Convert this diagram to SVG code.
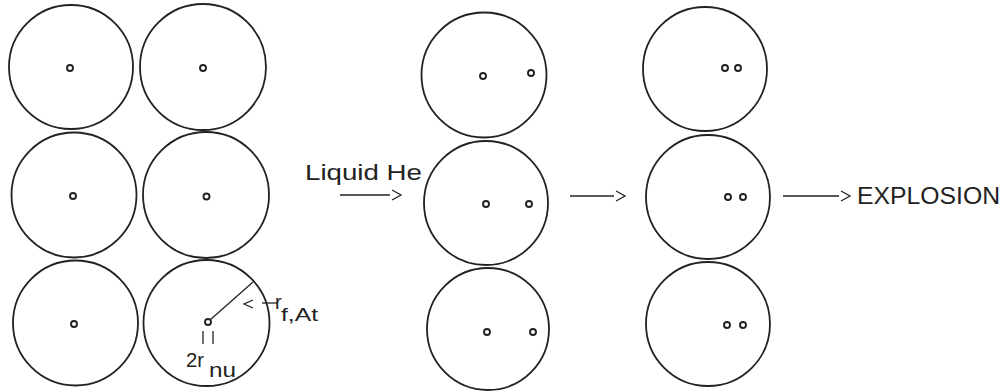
<svg xmlns="http://www.w3.org/2000/svg" width="1005" height="391" viewBox="0 0 1005 391">
<style>
.atom{fill:none;stroke:#222;stroke-width:1.8}
.nuc{fill:#fff;stroke:#222;stroke-width:1.9}
.ln{fill:none;stroke:#222;stroke-width:1.3}
.t{font-family:"Liberation Sans",Arial,sans-serif;fill:#222}
</style>
<rect width="1005" height="391" fill="#fff"/>
<g id="a11"><circle class="atom" cx="71" cy="67" r="62"/><circle class="nuc" cx="70" cy="68" r="3"/></g>
<g id="a12"><circle class="atom" cx="203" cy="67" r="63"/><circle class="nuc" cx="203" cy="68" r="3"/></g>
<g id="a21"><circle class="atom" cx="74" cy="195" r="62.5"/><circle class="nuc" cx="73" cy="196" r="3"/></g>
<g id="a22"><circle class="atom" cx="206" cy="195" r="63"/><circle class="nuc" cx="206.5" cy="196.5" r="3"/></g>
<g id="a31"><circle class="atom" cx="75.5" cy="323" r="62.5"/><circle class="nuc" cx="74" cy="324" r="3"/></g>
<g id="a32"><circle class="atom" cx="206.5" cy="323" r="63"/><circle class="nuc" cx="208" cy="322" r="3"/>
<line class="ln" x1="210" y1="320" x2="253" y2="282"/>
<line class="ln" x1="203" y1="331" x2="203" y2="344" stroke-width="1.6"/><line class="ln" x1="213" y1="331" x2="213" y2="344" stroke-width="1.6"/>
<text class="t" x="186" y="367" font-size="20" textLength="18" lengthAdjust="spacingAndGlyphs">2r</text><text class="t" x="209" y="377" font-size="20" textLength="27" lengthAdjust="spacingAndGlyphs">nu</text>
<text class="t" x="275" y="309" font-size="20">r</text><text class="t" x="281" y="321" font-size="18" textLength="37" lengthAdjust="spacingAndGlyphs">f,At</text>
</g>
<g id="b1"><circle class="atom" cx="484" cy="75" r="62.5"/><circle class="nuc" cx="483" cy="76" r="3"/><circle class="nuc" cx="531" cy="73" r="3"/></g>
<g id="b2"><circle class="atom" cx="486" cy="203" r="62"/><circle class="nuc" cx="486" cy="204" r="3"/><circle class="nuc" cx="529" cy="204" r="3"/></g>
<g id="b3"><circle class="atom" cx="488" cy="329" r="61"/><circle class="nuc" cx="487" cy="332" r="3"/><circle class="nuc" cx="533" cy="332" r="3"/></g>
<g id="c1"><circle class="atom" cx="705" cy="69" r="62"/><circle class="nuc" cx="725" cy="68" r="3"/><circle class="nuc" cx="738" cy="68" r="3"/></g>
<g id="c2"><circle class="atom" cx="708" cy="197" r="62"/><circle class="nuc" cx="728" cy="197" r="3"/><circle class="nuc" cx="743" cy="197" r="3"/></g>
<g id="c3"><circle class="atom" cx="708" cy="324" r="62"/><circle class="nuc" cx="727" cy="325" r="3"/><circle class="nuc" cx="743" cy="325" r="3"/></g>
<g id="labels">
<text class="t" x="305" y="180" font-size="22" textLength="117" lengthAdjust="spacingAndGlyphs">Liquid He</text>
<text class="t" x="857" y="204" font-size="24" textLength="143" lengthAdjust="spacingAndGlyphs">EXPLOSION</text>
</g>
<g id="connectors">
<line class="ln" x1="340" y1="195" x2="390" y2="195"/><polyline class="ln" points="392,190 401,195 392,200"/>
<line class="ln" x1="570" y1="196" x2="614" y2="196"/><polyline class="ln" points="616,191 625,196 616,201"/>
<line class="ln" x1="783" y1="196" x2="839" y2="196"/><polyline class="ln" points="841,191 850,196 841,201"/>
<polyline class="ln" points="253,300 244,304 253,308"/>
<line class="ln" x1="262" y1="303" x2="278" y2="303"/>
</g>
</svg>
